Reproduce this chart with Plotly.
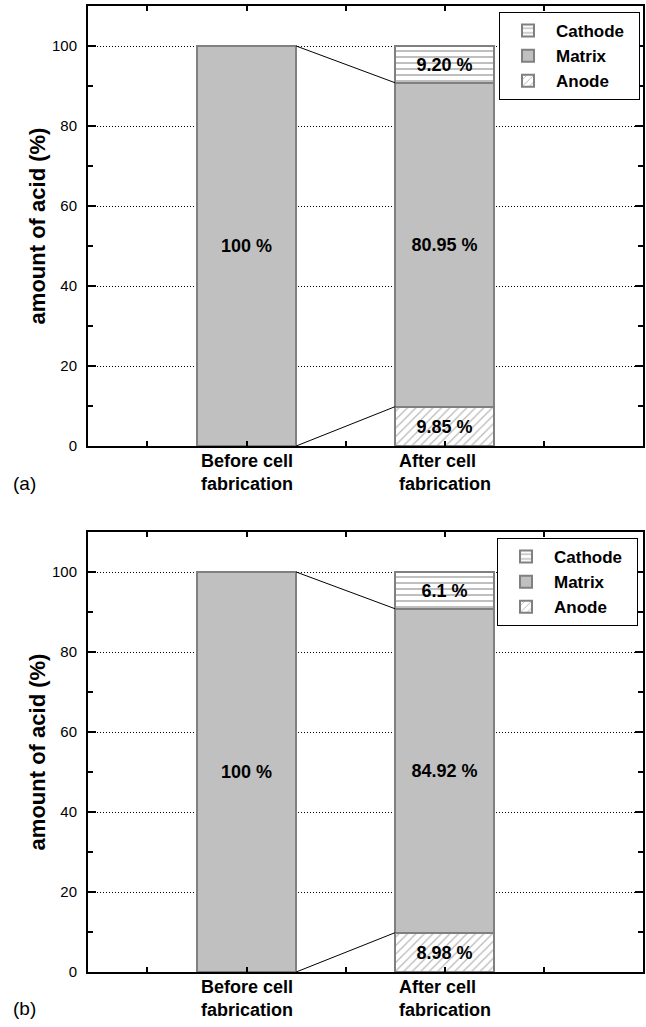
import plotly.graph_objects as go

# ---------------- data ----------------
categories = ["Before cell<br>fabrication", "After cell<br>fabrication"]
cat_pos = [1, 2]
series_names = ["Anode", "Matrix", "Cathode"]

# panel (a)
a_anode = [9.85]
a_matrix = [100, 80.95]
a_cathode = [9.20]
a_anode_lbl = ["9.85 %"]
a_matrix_lbl = ["100 %", "80.95 %"]
a_cathode_lbl = ["9.20 %"]

# panel (b)  (segment heights as drawn in the picture; labels as printed)
b_anode = [9.85]
b_matrix = [100, 80.95]
b_cathode = [9.20]
b_anode_lbl = ["8.98 %"]
b_matrix_lbl = ["100 %", "84.92 %"]
b_cathode_lbl = ["6.1 %"]

y_ticks = [0, 20, 40, 60, 80, 100]
y_minor = [10, 30, 50, 70, 90]
x_ticks = [0.5, 1, 1.5, 2, 2.5]

# ---------------- style ----------------
W, H = 646, 1027
ML, MR, MT, MB = 88, 3, 6, 55
PW, PH = W - ML - MR, H - MT - MB
FONT = "Liberation Sans, Arial, sans-serif"
GRAY = "#c0c0c0"
EDGE = "#808080"
BAR_W = 0.5
PAD = "\u00a0\u00a0"


def py(px):  # pixel y -> paper y
    return 1 - (px - MT) / PH


def pxx(px):  # pixel x -> paper x
    return (px - ML) / PW


fig = go.Figure()

panels = [
    ("x", "y", "legend", a_anode, a_matrix, a_cathode, a_anode_lbl, a_matrix_lbl, a_cathode_lbl),
    ("x2", "y2", "legend2", b_anode, b_matrix, b_cathode, b_anode_lbl, b_matrix_lbl, b_cathode_lbl),
]

txtfont = dict(family=FONT, size=18, color="black", weight="bold")

for xa, ya, lg, an, ma, ca, anl, mal, cal in panels:
    fig.add_trace(go.Bar(
        x=cat_pos[1:], y=an, name=series_names[0] + PAD, text=anl, width=BAR_W,
        xaxis=xa, yaxis=ya, legend=lg,
        marker=dict(color="white", line=dict(color=EDGE, width=2),
                    pattern=dict(shape="/", fgcolor="#707070", bgcolor="white", size=6, solidity=0.2)),
        textposition="inside", insidetextanchor="middle", textangle=0,
        constraintext="none", textfont=txtfont, hoverinfo="skip"))
    fig.add_trace(go.Bar(
        x=cat_pos, y=ma, name=series_names[1] + PAD, text=mal, width=BAR_W,
        xaxis=xa, yaxis=ya, legend=lg,
        marker=dict(color=GRAY, line=dict(color=EDGE, width=2)),
        textposition="inside", insidetextanchor="middle", textangle=0,
        constraintext="none", textfont=txtfont, hoverinfo="skip"))
    fig.add_trace(go.Bar(
        x=cat_pos[1:], y=ca, name=series_names[2] + PAD, text=cal, width=BAR_W,
        xaxis=xa, yaxis=ya, legend=lg,
        marker=dict(color="white", line=dict(color=EDGE, width=2),
                    pattern=dict(shape="-", fgcolor="#707070", bgcolor="white", size=6, solidity=0.3)),
        textposition="inside", insidetextanchor="middle", textangle=0,
        constraintext="none", textfont=txtfont, hoverinfo="skip"))
    # connecting lines from "before" bar to matrix part of "after" bar
    x0 = cat_pos[0] + BAR_W / 2
    x1 = cat_pos[1] - BAR_W / 2
    fig.add_trace(go.Scatter(x=[x0, x1], y=[ma[0], an[0] + ma[1]], mode="lines",
                             line=dict(color="black", width=1), xaxis=xa, yaxis=ya,
                             showlegend=False, hoverinfo="skip"))
    fig.add_trace(go.Scatter(x=[x0, x1], y=[0, an[0]], mode="lines",
                             line=dict(color="black", width=1), xaxis=xa, yaxis=ya,
                             showlegend=False, hoverinfo="skip"))
    for c, lab in zip(cat_pos, categories):
        fig.add_annotation(x=c, y=0, xref=xa, yref=ya, text="<b>" + lab + "</b>",
                           showarrow=False, xanchor="center", yanchor="top", align="left",
                           yshift=-3, font=dict(family=FONT, size=18, color="black"))

top_dom = [py(446), 1]
bot_dom = [0, py(532)]

xcommon = dict(range=[0.2, 3.0], tickvals=x_ticks, ticktext=[""] * len(x_ticks),
               ticks="inside", ticklen=5, tickwidth=1.5, tickcolor="black",
               showline=True, linecolor="black", linewidth=2, mirror="ticks",
               showgrid=False, zeroline=False)
ycommon = dict(range=[0, 110], tickvals=y_ticks, ticks="inside", ticklen=8, tickwidth=1.5,
               tickcolor="black", showline=True, linecolor="black", linewidth=2,
               mirror="ticks", showgrid=True, gridcolor="black", griddash="1px,2px", gridwidth=1,
               zeroline=False, ticklabelstandoff=6,
               tickfont=dict(family=FONT, size=15, color="black"),
               minor=dict(tickvals=y_minor, ticks="inside", ticklen=5,
                          tickwidth=1.5, tickcolor="black", showgrid=False),
               title=dict(text="<b>amount of acid (%)</b>", standoff=0,
                          font=dict(family=FONT, size=22, color="black")))

leg = dict(xanchor="right", yanchor="top", bgcolor="white", bordercolor="black", borderwidth=1,
           traceorder="reversed", font=dict(family=FONT, size=17, color="black", weight="bold"),
           itemwidth=46, tracegroupgap=0)

fig.update_layout(
    width=W, height=H, margin=dict(l=ML, r=MR, t=MT, b=MB, autoexpand=False),
    paper_bgcolor="white", plot_bgcolor="white", barmode="stack", bargap=0,
    showlegend=True,
    xaxis=dict(domain=[0, 1], anchor="y", **xcommon),
    yaxis=dict(domain=top_dom, anchor="x", **ycommon),
    xaxis2=dict(domain=[0, 1], anchor="y2", **xcommon),
    yaxis2=dict(domain=bot_dom, anchor="x2", **ycommon),
    legend=dict(x=pxx(640), y=py(12), **leg),
    legend2=dict(x=pxx(638), y=py(538), **leg),
)

fig.add_annotation(x=pxx(24), y=py(483), xref="paper", yref="paper", text="(a)",
                   showarrow=False, xanchor="center", yanchor="middle",
                   font=dict(family=FONT, size=19, color="black"))
fig.add_annotation(x=pxx(24), y=py(1008), xref="paper", yref="paper", text="(b)",
                   showarrow=False, xanchor="center", yanchor="middle",
                   font=dict(family=FONT, size=19, color="black"))

fig.write_html("out.html", config={"displayModeBar": False},
               post_script="document.body.style.margin='0';")
